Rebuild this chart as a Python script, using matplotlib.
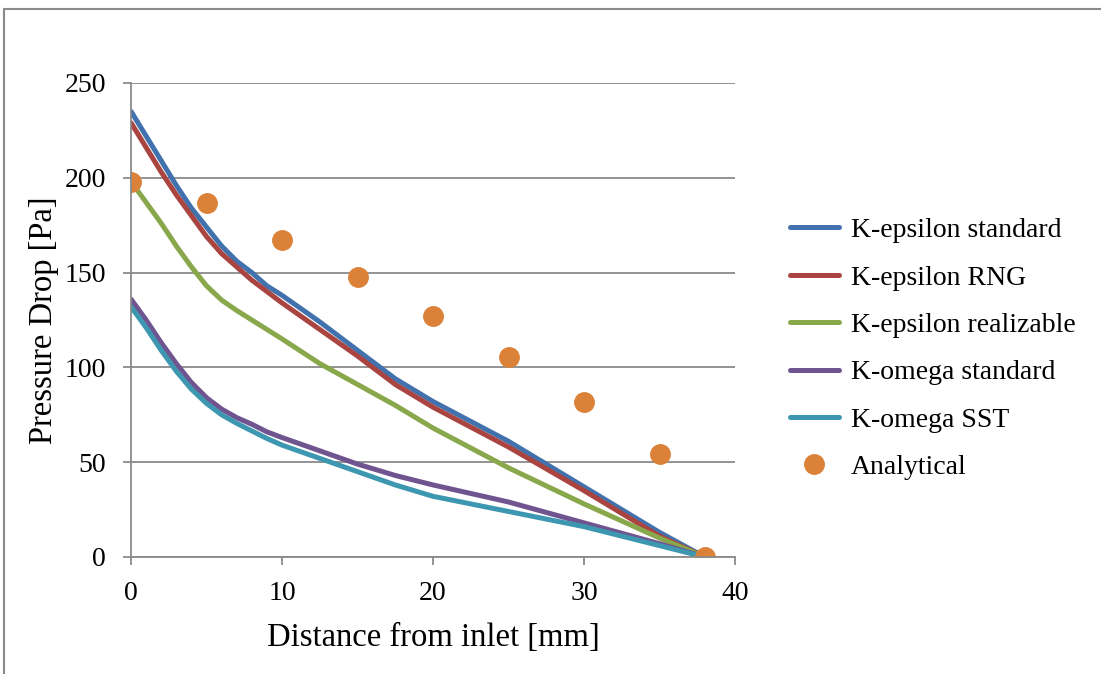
import matplotlib.pyplot as plt
from matplotlib.patches import Rectangle

plt.rcParams['font.family'] = ['Liberation Serif', 'DejaVu Serif']

# distance from inlet [mm] and pressure drop [Pa]
x_sim = [0, 1, 2, 3, 4, 5, 6, 7, 8, 9, 10, 12.5, 15, 17.5, 20, 25, 30, 35, 38]
ke_standard = [235, 222, 209, 196, 184, 174, 164, 156, 150, 143, 138, 124, 109, 94, 82, 61, 37, 13, 0]
ke_rng = [229, 216, 203, 191, 180, 169, 160, 153, 146, 140, 134, 120, 106, 91, 79, 58, 35, 11, 0]
ke_realizable = [198, 187, 176, 164, 153, 143, 135.5, 130, 125, 120, 115, 102, 91, 80, 68, 47, 28, 10, 0]
kw_standard = [136, 125, 113, 102, 92, 84, 78, 73.5, 70, 66, 63, 56, 49, 43, 38, 29, 18, 7, 0]
kw_sst = [132, 121, 109, 98, 88.5, 81, 75, 70.5, 66.5, 62.5, 59, 52, 45, 38, 32, 24, 16, 6, 0]

x_analytical = [0, 5, 10, 15, 20, 25, 30, 35, 38]
analytical = [198, 186.5, 167, 147.5, 127, 105.5, 82, 54.5, 0]

series = [
    ('K-epsilon standard', ke_standard, '#4272AE'),
    ('K-epsilon RNG', ke_rng, '#AA4440'),
    ('K-epsilon realizable', ke_realizable, '#89A74B'),
    ('K-omega standard', kw_standard, '#6F5490'),
    ('K-omega SST', kw_sst, '#3E97B0'),
]

fig = plt.figure(figsize=(11.01, 6.74), dpi=100)
ax = fig.add_axes([0.119, 0.1736, 0.5486, 0.7033])

for name, vals, col in series:
    ax.plot(x_sim, vals, color=col, lw=3.6, label=name, solid_capstyle='round',
            solid_joinstyle='round')
ax.plot(x_analytical, analytical, 'o', color='#DB8238', ms=14, label='Analytical')

ax.set_xlim(0, 40)
ax.set_ylim(0, 250)
ax.set_xticks([0, 10, 20, 30, 40])
ax.set_yticks([0, 50, 100, 150, 200, 250])
ax.grid(axis='y', color='#8a8a8a', lw=1.3)
ax.set_axisbelow(True)
for s in ['top', 'right']:
    ax.spines[s].set_visible(False)
for s in ['left', 'bottom']:
    ax.spines[s].set_color('#8a8a8a')
    ax.spines[s].set_linewidth(1.3)
ax.tick_params(axis='both', colors='#8a8a8a', labelcolor='black', labelsize=20,
               length=6, width=1.3)
ax.tick_params(axis='y', pad=12)
ax.tick_params(axis='x', pad=11)
ax.set_xlabel('Distance from inlet [mm]', fontsize=23.5, labelpad=12)
ax.set_ylabel('Pressure Drop [Pa]', fontsize=23.5, labelpad=4)

ax.legend(loc='center left', bbox_to_anchor=(1.091, 0.439), frameon=False,
          fontsize=20, handlelength=1.75, handletextpad=0.45, labelspacing=0.79,
          borderpad=0, borderaxespad=0, numpoints=1)

fig.patches.append(Rectangle((4 / 1101, -0.1), 2, (674 - 9) / 674 + 0.1,
                             transform=fig.transFigure, fill=False,
                             edgecolor='#8a8a8a', lw=1.5))

plt.savefig('out.png')
